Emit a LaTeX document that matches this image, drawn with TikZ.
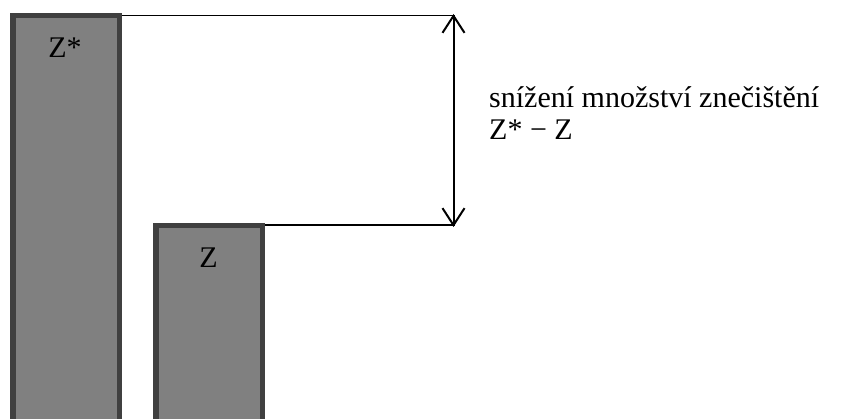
\documentclass[tikz,border=0pt]{standalone}
\usepackage{fontspec}
\setmainfont{Liberation Serif}
\usetikzlibrary{arrows.meta}
\definecolor{barfill}{HTML}{808080}
\definecolor{barline}{HTML}{404040}
\tikzset{mybarb/.tip={Straight Barb[length=17pt,width=22pt,line width=2pt]}}
\begin{document}
\begin{tikzpicture}[x=1pt,y=-1pt,
  bar/.style={draw=barline,fill=barfill,line width=5.5pt},
  lbl/.style={font=\fontsize{30}{35}\selectfont,inner sep=0pt,anchor=base},
  guide/.style={line width=1.6pt,black}]
\useasboundingbox (0,0) rectangle (846,419);
\draw[bar] (12.75,15.75) rectangle (119.25,425);
\draw[bar] (155.75,225.75) rectangle (262.25,425);
\node[lbl] (zs) at (65,57.5) {Z*};
\node[lbl] (z) at (208.5,268) {Z};
\coordinate (t1) at (122,15.5);
\coordinate (t2) at (455,15.5);
\coordinate (b1) at (265,225);
\coordinate (b2) at (455,225);
\draw[guide] (t1) -- (t2);
\draw[guide] (b1) -- (b2);
\draw[line width=2pt,mybarb-mybarb] ([xshift=-1.5pt,yshift=1.5pt]t2) -- ([xshift=-1.5pt,yshift=-2pt]b2);
\node[lbl,anchor=base west] (txt) at (489,108) {snížení množství znečištění};
\node[lbl,anchor=base west] (txt2) at (489,140) {Z* − Z};
\end{tikzpicture}
\end{document}
